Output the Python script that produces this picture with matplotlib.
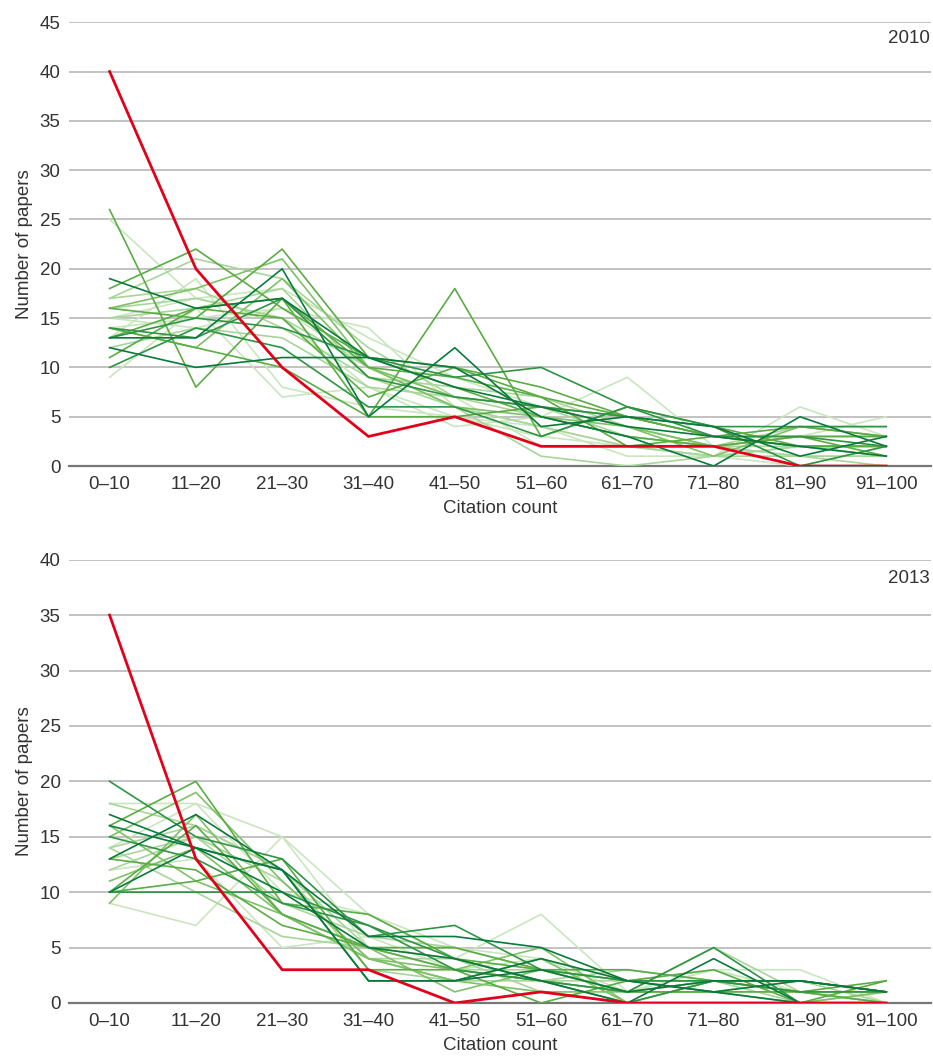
import matplotlib
matplotlib.use('Agg')
import matplotlib.pyplot as plt

plt.rcParams['font.family'] = ['Liberation Sans', 'DejaVu Sans']

categories = ['0–10', '11–20', '21–30', '31–40', '41–50', '51–60',
              '61–70', '71–80', '81–90', '91–100']

DARK, MID_D, MID, MID_L, LIGHT, PALE = '#0a7a3c', '#2f9444', '#5aac44', '#7fc166', '#a8d599', '#c9e6bf'

# 2010 panel: one series per journal, plus the highlighted one in red
series_2010 = [
    ([26, 8, 17, 10, 9, 7, 5, 3, 2, 2], MID),
    ([25, 17, 18, 13, 9, 6, 4, 2, 1, 1], PALE),
    ([19, 16, 17, 11, 8, 6, 4, 3, 2, 1], DARK),
    ([18, 22, 16, 11, 8, 5, 3, 2, 3, 3], MID),
    ([17, 21, 19, 12, 7, 5, 3, 2, 2, 1], LIGHT),
    ([16, 15, 22, 11, 10, 8, 5, 3, 2, 2], MID),
    ([16, 18, 21, 10, 7, 6, 4, 2, 3, 3], MID_L),
    ([15, 16, 18, 9, 6, 4, 2, 1, 1, 1], LIGHT),
    ([15, 17, 15, 8, 5, 4, 2, 1, 0, 2], PALE),
    ([14, 13, 17, 9, 7, 6, 5, 4, 4, 4], MID_D),
    ([14, 15, 16, 14, 6, 4, 1, 1, 2, 1], PALE),
    ([14, 12, 19, 10, 6, 5, 4, 1, 4, 3], MID_L),
    ([13, 13, 20, 5, 12, 4, 5, 4, 1, 3], DARK),
    ([13, 16, 17, 5, 18, 3, 6, 4, 2, 2], MID),
    ([13, 15, 14, 11, 9, 10, 6, 3, 3, 2], MID_D),
    ([12, 10, 11, 11, 10, 5, 3, 0, 5, 2], DARK),
    ([12, 14, 13, 8, 7, 6, 3, 2, 4, 4], LIGHT),
    ([11, 16, 15, 7, 10, 7, 2, 3, 4, 3], MID),
    ([10, 14, 12, 6, 6, 3, 6, 4, 0, 2], MID_D),
    ([9, 16, 7, 8, 4, 5, 9, 2, 3, 5], PALE),
    ([13, 19, 8, 6, 5, 3, 2, 1, 2, 1], PALE),
    ([15, 14, 16, 10, 7, 2, 2, 1, 6, 3], PALE),
    ([17, 18, 14, 9, 8, 7, 4, 2, 1, 0], LIGHT),
    ([14, 12, 10, 5, 5, 6, 5, 3, 3, 1], MID),
    ([16, 17, 15, 10, 6, 1, 0, 1, 2, 2], LIGHT),
]
red_2010 = [40, 20, 10, 3, 5, 2, 2, 2, 0, 0]

series_2013 = [
    ([20, 15, 13, 6, 7, 3, 2, 2, 2, 1], MID_D),
    ([18, 18, 15, 8, 5, 4, 1, 3, 1, 0], PALE),
    ([18, 16, 12, 5, 3, 3, 1, 5, 1, 1], LIGHT),
    ([17, 14, 12, 6, 6, 5, 2, 1, 2, 1], DARK),
    ([16, 14, 10, 5, 4, 2, 0, 4, 0, 0], DARK),
    ([16, 20, 9, 8, 4, 3, 2, 2, 1, 2], MID),
    ([15, 19, 11, 4, 3, 5, 0, 2, 1, 1], MID_L),
    ([15, 13, 9, 7, 3, 2, 1, 5, 0, 0], MID_D),
    ([14, 16, 12, 3, 2, 2, 3, 2, 1, 0], LIGHT),
    ([14, 18, 10, 8, 4, 8, 1, 3, 3, 0], PALE),
    ([13, 17, 12, 2, 2, 4, 2, 1, 0, 0], DARK),
    ([13, 12, 7, 5, 5, 3, 3, 2, 2, 1], MID),
    ([12, 15, 11, 4, 4, 1, 0, 2, 0, 1], LIGHT),
    ([12, 13, 5, 6, 3, 2, 1, 1, 1, 0], PALE),
    ([11, 14, 8, 4, 2, 1, 1, 2, 2, 1], MID_L),
    ([10, 14, 12, 2, 2, 3, 1, 2, 2, 1], DARK),
    ([10, 16, 8, 5, 3, 0, 2, 3, 0, 2], MID),
    ([10, 10, 10, 7, 4, 2, 0, 2, 1, 1], MID_D),
    ([9, 17, 8, 5, 1, 3, 1, 1, 0, 0], MID_L),
    ([9, 7, 15, 5, 3, 4, 2, 3, 1, 0], PALE),
    ([10, 11, 13, 3, 3, 2, 1, 1, 1, 0], MID),
    ([14, 10, 6, 5, 4, 2, 2, 1, 2, 0], LIGHT),
    ([16, 11, 8, 4, 2, 4, 0, 0, 0, 1], MID_L),
    ([13, 15, 9, 6, 5, 3, 1, 2, 1, 0], LIGHT),
]
red_2013 = [35, 13, 3, 3, 0, 1, 0, 0, 0, 0]

TEXT = '#333333'


def draw_panel(ax, series, red, ymax, year):
    x = range(len(categories))
    # lightest first so darker lines sit on top
    order = [PALE, LIGHT, MID_L, MID, MID_D, DARK]
    for col in order:
        for vals, c in series:
            if c == col:
                ax.plot(x, vals, color=c, lw=1.2, zorder=2)
    ax.plot(x, red, color='#e2001a', lw=2.0, zorder=4)

    ax.set_xlim(-0.47, 9.52)
    ax.set_ylim(0, ymax)
    ax.set_yticks(range(0, ymax + 1, 5))
    ax.set_xticks(list(x))
    ax.set_xticklabels(categories)
    ax.yaxis.grid(True, color='#bdbdbd', lw=1.3)
    ax.set_axisbelow(True)
    for s in ('top', 'right', 'left'):
        ax.spines[s].set_visible(False)
    ax.spines['bottom'].set_color('#777777')
    ax.spines['bottom'].set_linewidth(1.6)
    ax.spines['bottom'].set_zorder(1)
    ax.tick_params(length=0, labelsize=13.5, labelcolor=TEXT, pad=6)
    ax.tick_params(axis='x', pad=7)
    ax.set_ylabel('Number of papers', fontsize=13.5, color=TEXT, labelpad=5)
    ax.set_xlabel('Citation count', fontsize=13.5, color=TEXT, labelpad=5)
    ax.text(0.998, ymax - 1.7, year, transform=ax.get_yaxis_transform(),
            ha='right', va='center', fontsize=13.5, color=TEXT)


fig = plt.figure(figsize=(9.33, 10.58), dpi=100)
ax1 = fig.add_axes([0.074, 0.5595, 0.924, 0.4195])
ax2 = fig.add_axes([0.074, 0.0520, 0.924, 0.4190])

draw_panel(ax1, series_2010, red_2010, 45, '2010')
draw_panel(ax2, series_2013, red_2013, 40, '2013')

fig.savefig('out.png', dpi=100)
